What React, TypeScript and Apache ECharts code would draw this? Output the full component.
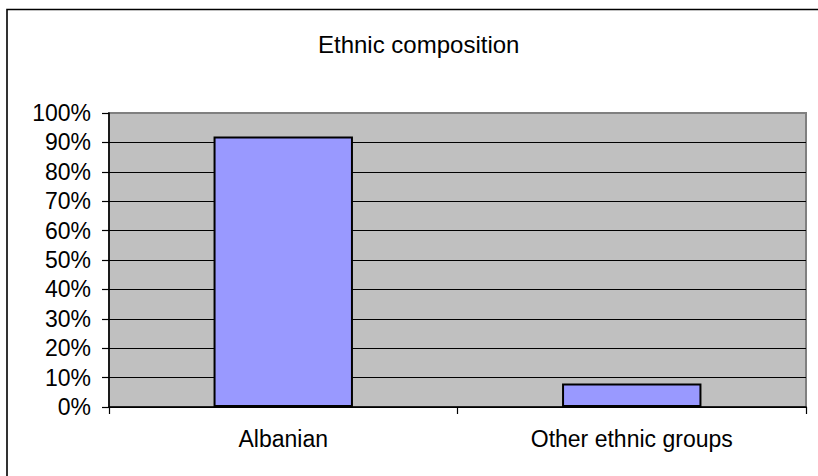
import React, { useEffect, useRef } from "react";
import * as echarts from "echarts";

const titleText = "Ethnic composition";
const categories = ["Albanian", "Other ethnic groups"];
const shares = [92, 8];
const yMin = 0;
const yMax = 100;
const yStep = 10;

const FONT = "'Liberation Sans', Arial, sans-serif";

export default function App() {
  const ref = useRef<HTMLDivElement>(null);
  useEffect(() => {
    if (!ref.current) return;
    const chart = echarts.init(ref.current, null, { renderer: "svg" });
    const nLines = (yMax - yMin) / yStep + 1;
    const splitColors = Array.from({ length: nLines }, (_, i) =>
      i === nLines - 1 ? "#808080" : "#000000"
    );
    chart.setOption({
      animation: false,
      backgroundColor: "#ffffff",
      title: {
        text: titleText,
        left: 313,
        top: 27,
        textStyle: {
          fontFamily: FONT,
          fontSize: 24,
          fontWeight: "normal",
          color: "#000",
        },
      },
      graphic: [
        {
          type: "rect",
          shape: { x: 7, y: 9.5, width: 1000, height: 1000 },
          style: { fill: "none", stroke: "#000", lineWidth: 1.6 },
          silent: true,
          z: 100,
        },
      ],
      grid: {
        left: 109,
        top: 113,
        right: 12,
        bottom: 69,
        show: true,
        backgroundColor: "#C0C0C0",
        borderColor: "#808080",
        borderWidth: 2,
      },
      xAxis: {
        type: "category",
        data: categories,
        axisLine: { lineStyle: { color: "#000", width: 1.6 } },
        axisTick: { show: true, length: 7, lineStyle: { color: "#000", width: 1.2 } },
        axisLabel: {
          fontFamily: FONT,
          fontSize: 23,
          color: "#000",
          margin: 20,
        },
        splitLine: { show: false },
      },
      yAxis: {
        type: "value",
        min: yMin,
        max: yMax,
        interval: yStep,
        axisLine: { show: true, lineStyle: { color: "#000", width: 1.6 } },
        axisTick: { show: true, length: 7, lineStyle: { color: "#000", width: 1.2 } },
        axisLabel: {
          fontFamily: FONT,
          fontSize: 23,
          color: "#000",
          margin: 18,
          formatter: "{value}%",
        },
        splitLine: { show: true, lineStyle: { color: splitColors, width: 1 } },
      },
      series: [
        {
          type: "bar",
          data: shares,
          barWidth: "40%",
          itemStyle: { color: "#9999FF", borderColor: "#000", borderWidth: 2 },
        },
      ],
    });
    return () => chart.dispose();
  }, []);
  return (
    <div
      ref={ref}
      style={{ position: "absolute", left: 0, top: 0, width: 818, height: 476 }}
    />
  );
}
